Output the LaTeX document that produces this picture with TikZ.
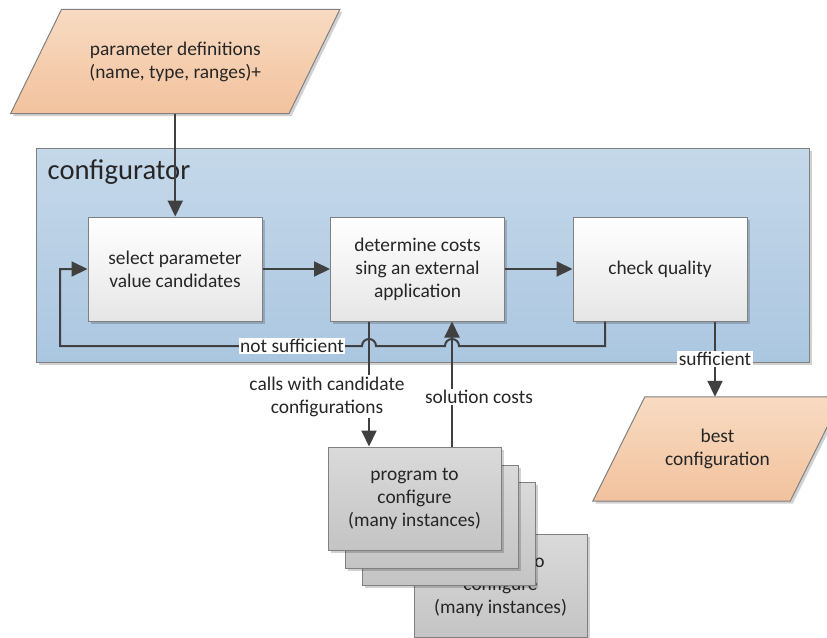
\documentclass[tikz,border=0pt]{standalone}
\usepackage{fontspec}
\setmainfont{Carlito}
\usetikzlibrary{arrows.meta,calc,shadows}
\definecolor{inkline}{HTML}{404040}
\definecolor{inktext}{HTML}{262626}
\definecolor{edgegray}{HTML}{808080}
\definecolor{cfgtop}{HTML}{C5D8EA}
\definecolor{cfgbot}{HTML}{ABC7E0}
\definecolor{iotop}{HTML}{F8DBC2}
\definecolor{iobot}{HTML}{F2C29D}
\definecolor{procbot}{HTML}{E6E6E6}
\definecolor{progtop}{HTML}{DADADA}
\definecolor{progbot}{HTML}{C4C4C4}
\pgfdeclarelayer{back}
\pgfsetlayers{back,main}

\begin{document}
\begin{tikzpicture}[x=1pt,y=-1pt,
  txt/.style={font=\fontsize{19.4pt}{23pt}\selectfont, text=inktext, align=center, inner sep=0pt},
  softshadow/.style={drop shadow={shadow xshift=2.5pt, shadow yshift=-2.5pt, fill=black, opacity=0.18}},
  conn/.style={draw=inkline, line width=2pt},
  arr/.style={conn, -{Triangle[length=16pt,width=15pt]}},
  procbox/.style={txt, draw=edgegray, line width=1pt, top color=white, bottom color=procbot,
    minimum width=174pt, minimum height=104pt, softshadow},
  progbox/.style={txt, draw=edgegray, line width=1pt, top color=progtop, bottom color=progbot,
    minimum width=173pt, minimum height=103pt, softshadow},
  iotext/.style={txt, minimum height=104pt},
  iofill/.style={draw=edgegray, line width=1pt, top color=iotop, bottom color=iobot, softshadow},
  lbl/.style={txt, fill=white, inner sep=1.5pt},
]
\useasboundingbox (0,0) rectangle (827,637);
\clip (0,0) rectangle (827,637);

% configurator frame
\node[draw=edgegray, line width=1pt, top color=cfgtop, bottom color=cfgbot,
      minimum width=773pt, minimum height=214pt, softshadow] (cfg) at (422.5,255) {};
\node[txt, font=\fontsize{28.6pt}{34pt}\selectfont, anchor=base west] (cfgtitle)
      at ($(cfg.north west)+(12,31.5)$) {configurator};

% input / output data
\node[iotext, minimum width=227pt] (pdef) at (175.25,61.5) {parameter definitions\\(name, type, ranges)+};
\node[iotext, minimum width=145pt] (best) at (717.5,449) {best\\configuration};
\begin{pgfonlayer}{back}
  \path[iofill] (pdef.north west) -- ($(pdef.north east)+(51,0)$) -- (pdef.south east)
                -- ($(pdef.south west)+(-51,0)$) -- cycle;
  \path[iofill] (best.north west) -- ($(best.north east)+(52,0)$) -- (best.south east)
                -- ($(best.south west)+(-52,0)$) -- cycle;
\end{pgfonlayer}

% process steps
\node[procbox] (sel) at (175,269) {select parameter\\value candidates};
\node[procbox] (det) at (417.5,269) {determine costs\\sing an external\\application};
\node[procbox] (chk) at (660,269) {check quality};

% stacked program instances
\node[progbox] (p4) at (500.5,585.5) {program to\\configure\\(many instances)};
\node[progbox] (p3) at (449,533.5) {};
\node[progbox] (p2) at (431.5,516.5) {};
\node[progbox] (p1) at (414.5,498.5) {program to\\configure\\(many instances)};

% connector columns and rows
\coordinate (callx) at (369,0);
\coordinate (costx) at (452,0);
\coordinate (loopx) at (605,0);
\coordinate (backx) at (60,0);
\coordinate (loopy) at (0,346);
\coordinate (okx) at (715,0);

\draw[arr] (pdef.south) -- (pdef.south |- sel.north);
\draw[arr] (sel) -- (det);
\draw[arr] (det) -- (chk);

% feedback loop with line jumps
\draw[arr] (chk.south -| loopx) |- ($(costx |- loopy)+(7,0)$)
   arc[start angle=0, end angle=180, radius=7pt]
   -- ($(callx |- loopy)+(7,0)$)
   arc[start angle=0, end angle=180, radius=7pt]
   -- (backx |- loopy) |- (sel.west);
\node[lbl] (nsuf) at (292,346) {not sufficient};

\draw[arr] (det.south -| callx) -- (p1.north -| callx);
\node[lbl] (calls) at (327,396.5) {calls with candidate\\configurations};

\draw[arr] (p1.north -| costx) -- (det.south -| costx);
\node[lbl] (costs) at (479,397) {solution costs};

\draw[arr] (chk.south -| okx) -- (best.north -| okx) node[lbl, midway] (suf) {sufficient};
\end{tikzpicture}
\end{document}
